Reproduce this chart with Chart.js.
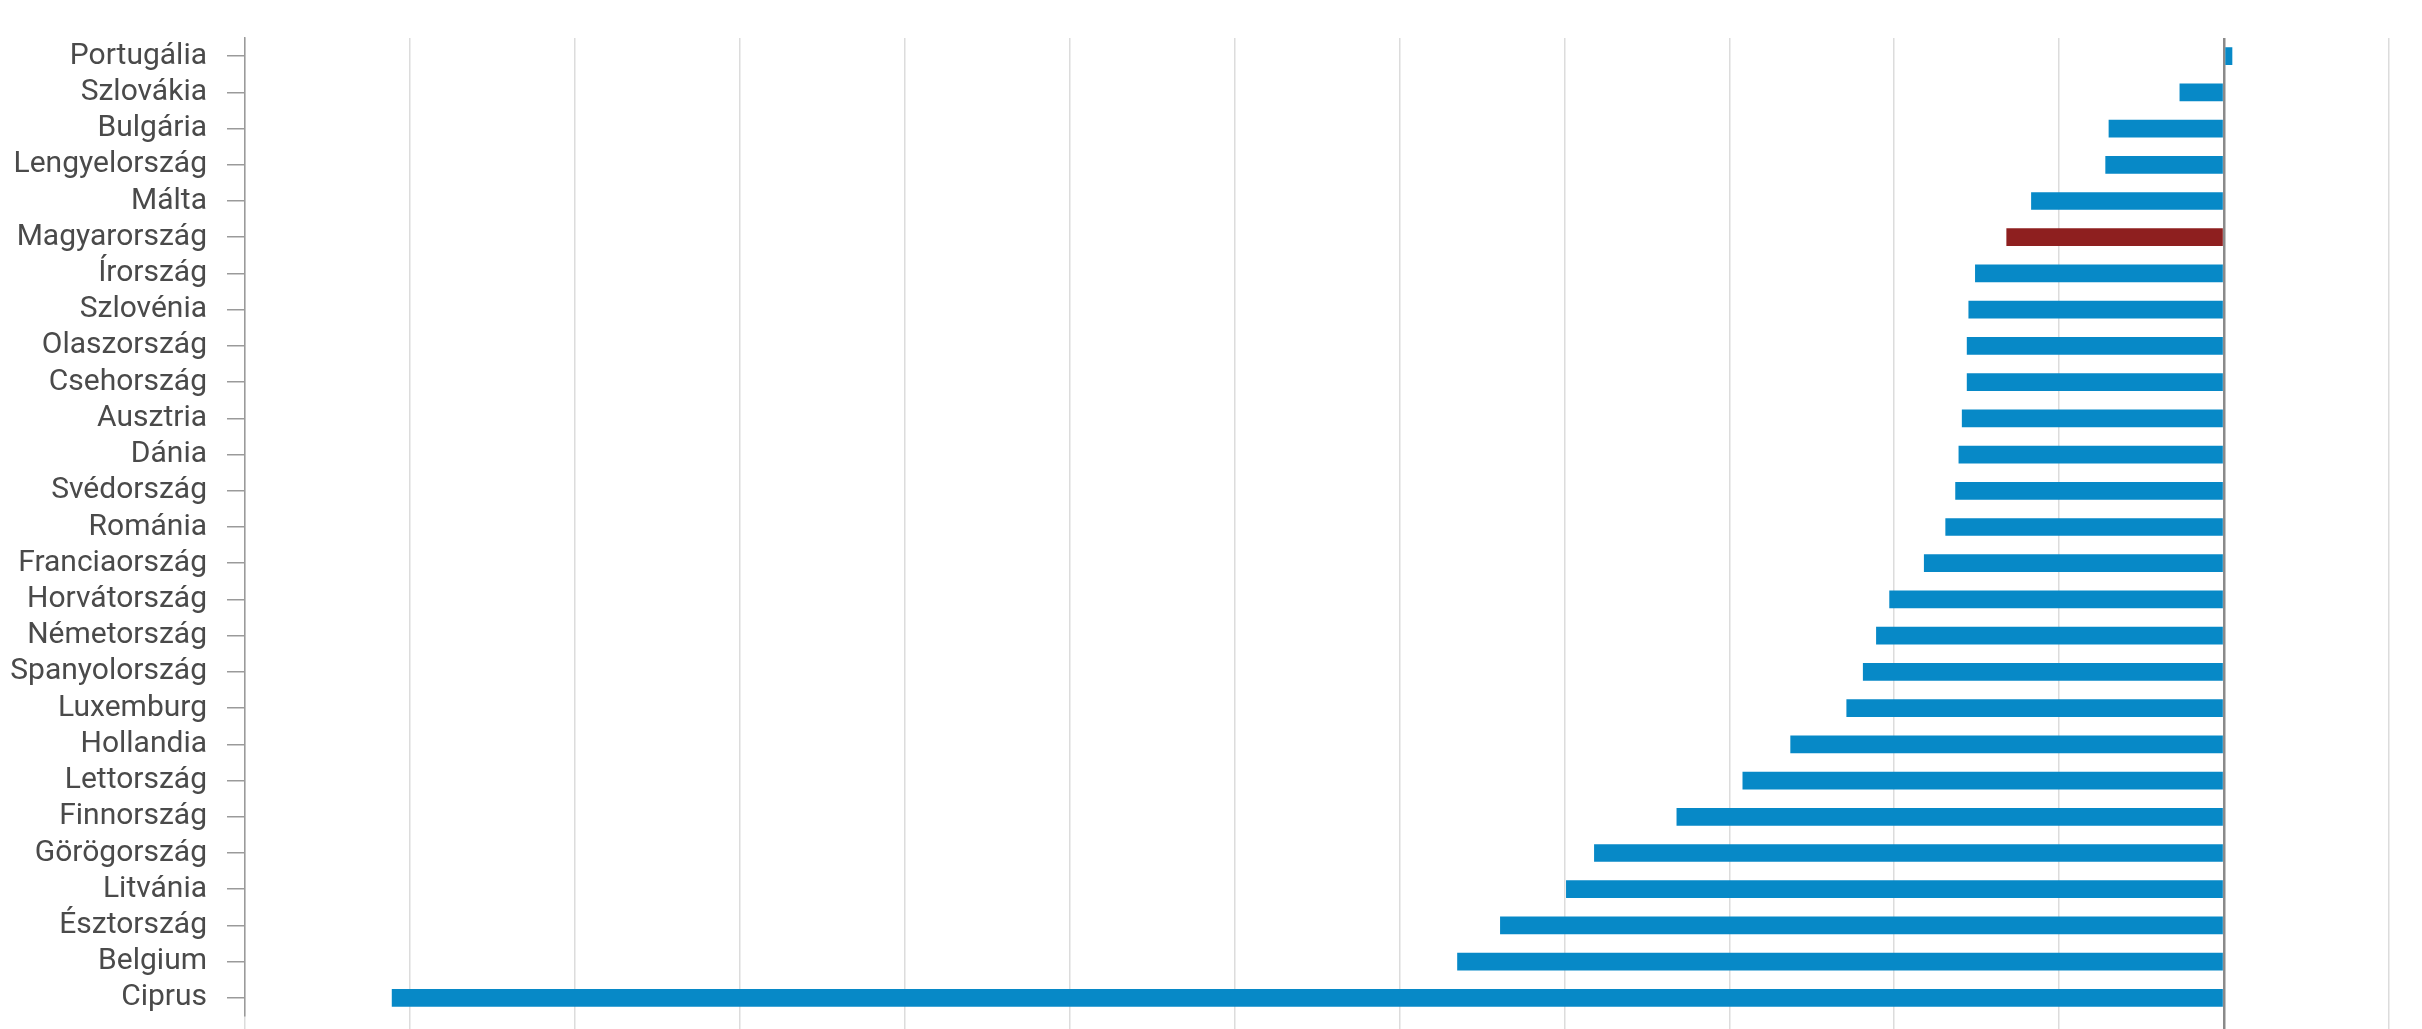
<!DOCTYPE html>
<html>
<head>
<meta charset="utf-8">
<script src="https://cdn.jsdelivr.net/npm/chart.js@4/dist/chart.umd.min.js"></script>
<style>
  html, body { margin: 0; padding: 0; background: #ffffff; overflow: hidden; }
  #wrap { position: absolute; left: 0; top: 0; width: 2422px; height: 1060px; }
</style>
</head>
<body>
<div id="wrap"><canvas id="c" width="2422" height="1060"></canvas></div>
<script>
const countries = [
  "Portugália", "Szlovákia", "Bulgária", "Lengyelország", "Málta", "Magyarország",
  "Írország", "Szlovénia", "Olaszország", "Csehország", "Ausztria", "Dánia",
  "Svédország", "Románia", "Franciaország", "Horvátország", "Németország",
  "Spanyolország", "Luxemburg", "Hollandia", "Lettország", "Finnország",
  "Görögország", "Litvánia", "Észtország", "Belgium", "Ciprus"
];
const values = [
  0.05, -0.27, -0.70, -0.72, -1.17, -1.32,
  -1.51, -1.55, -1.56, -1.56, -1.59, -1.61,
  -1.63, -1.69, -1.82, -2.03, -2.11,
  -2.19, -2.29, -2.63, -2.92, -3.32,
  -3.82, -3.99, -4.39, -4.65, -11.11
];
const highlighted = "Magyarország";
const xMin = -12;
const xMax = 1;
const xStep = 1;

const blue = "#0789c7";
const red = "#8e1f1f";
const barColors = countries.map(c => c === highlighted ? red : blue);

new Chart(document.getElementById("c"), {
  type: "bar",
  data: {
    labels: countries,
    datasets: [{
      data: values,
      backgroundColor: barColors,
      borderWidth: 0,
      categoryPercentage: 1.0,
      barPercentage: 0.49
    }]
  },
  options: {
    indexAxis: "y",
    responsive: false,
    animation: false,
    layout: { padding: { top: 31, right: 33, bottom: 24, left: 0 } },
    plugins: {
      legend: { display: false },
      title: { display: false },
      tooltip: { enabled: false }
    },
    scales: {
      x: {
        type: "linear",
        min: xMin,
        max: xMax,
        ticks: { stepSize: xStep, display: false },
        grid: {
          drawTicks: true,
          tickLength: 20,
          color: ctx => (ctx.tick && ctx.tick.value === 0) ? "#8a8a8a" : "#dcdcdc",
          lineWidth: ctx => (ctx.tick && ctx.tick.value === 0) ? 2.5 : 1.5
        },
        border: { display: false }
      },
      y: {
        type: "category",
        afterFit: scale => { scale.width = 245; },
        ticks: {
          color: "#4a4a4a",
          padding: 20,
          autoSkip: false,
          font: { family: "Roboto", size: 30 }
        },
        grid: {
          offset: false,
          drawOnChartArea: false,
          drawTicks: true,
          tickLength: 18,
          color: "#9a9a9a",
          lineWidth: 1.5
        },
        border: { display: true, color: "#9a9a9a", width: 1.5 }
      }
    }
  }
});
</script>
</body>
</html>
